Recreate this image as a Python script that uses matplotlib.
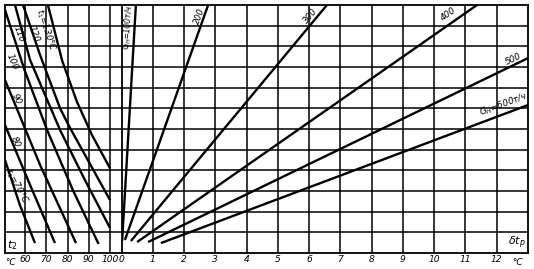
import matplotlib
matplotlib.use("Agg")
import matplotlib.pyplot as plt

# left block: t2 (return temperature), lines of constant t1
t2_ticks = [60, 70, 80, 90, 100]
t1_labels = ["$t_1$=70°C", "80", "90", "100", "110", "120", "$t_1$=130°C"]
t1_t2 = [
    [50.6, 57.6, 64.7],
    [50.6, 62.4, 74.1],
    [50.6, 67.1, 84.0],
    [50.6, 59.8, 70.4, 82.5, 94.6],
    [55.3, 62.4, 76.5, 88.2, 100.0],
    [59.1, 67.1, 76.5, 81.2, 100.0],
    [70.8, 77.5, 84.5, 91.5, 100.0],
]
t1_y = [
    [4.5, 2.32, 0.48],
    [6.19, 3.29, 0.48],
    [8.37, 4.26, 0.48],
    [11.76, 8.85, 5.95, 3.05, 0.44],
    [12.0, 9.34, 5.95, 3.53, 1.21],
    [12.0, 9.58, 7.0, 6.05, 2.56],
    [12.0, 9.3, 7.3, 5.71, 4.1],
]
t1_lab_pos = [(56.2, 3.24), (55.3, 5.37), (55.8, 7.45), (53.9, 9.24),
              (57.2, 10.6), (64.2, 10.6), (70.0, 10.8)]
t1_lab_rot = [-62, -65, -65, -68, -70, -70, -72]

# right block: delta t_p, lines of constant flow G_H
dt_ticks = list(range(0, 13))
g_labels = ["$G_H$=100т/ч", "200", "300", "400", "500", "$G_H$=600т/ч"]
g_dt = [[0.02, 0.46], [0.11, 2.77], [0.30, 6.57], [0.50, 11.37], [0.85, 13.0], [1.26, 13.0]]
g_y = [[0.58, 12.0], [0.63, 12.0], [0.58, 12.0], [0.53, 12.0], [0.53, 9.43], [0.48, 7.16]]
g_lab_pos = [(0.22, 10.95), (2.51, 11.47), (6.06, 11.47), (10.44, 11.56), (12.52, 9.39), (12.23, 7.21)]
g_lab_rot = [86, 70, 50, 35, 25, 20]

W, H = 534, 269
fig = plt.figure(figsize=(W / 100, H / 100), dpi=100)
x0, x1, x2 = 5, 121.5, 528
yb, yt = 16, 264
axl = fig.add_axes([x0 / W, yb / H, (x1 - x0) / W, (yt - yb) / H])
axr = fig.add_axes([x1 / W, yb / H, (x2 - x1) / W, (yt - yb) / H])

txt = dict(fontsize=6.3, style="italic", color="black")

for ax in (axl, axr):
    ax.set_ylim(0, 12)
    ax.set_yticks([])
    for y in range(1, 12):
        ax.axhline(y, color="black", lw=1.1)
    for s in ax.spines.values():
        s.set_linewidth(1.3)
    ax.tick_params(axis="x", length=0, pad=1.5, labelsize=6.6)

axl.set_xlim(50.6, 105.4)
axl.spines["right"].set_visible(False)
for v in t2_ticks:
    axl.axvline(v, color="black", lw=1.1)
axl.set_xticks(t2_ticks)
axl.set_xticklabels([str(v) for v in t2_ticks], style="italic")

axr.set_xlim(0, 13)
for v in dt_ticks[1:]:
    axr.axvline(v, color="black", lw=1.1)
axr.set_xticks(dt_ticks)
axr.set_xticklabels([str(v) for v in dt_ticks], style="italic")

for xs, ys in zip(t1_t2, t1_y):
    axl.plot(xs, ys, color="black", lw=1.7, solid_capstyle="butt")
for lab, (px, py), r in zip(t1_labels, t1_lab_pos, t1_lab_rot):
    axl.text(px, py, lab, rotation=r, ha="center", va="center",
             rotation_mode="anchor", **txt)

for xs, ys in zip(g_dt, g_y):
    axr.plot(xs, ys, color="black", lw=1.7, solid_capstyle="butt")
for i, (lab, (px, py), r) in enumerate(zip(g_labels, g_lab_pos, g_lab_rot)):
    fs = 5.6 if i == 0 else 6.3
    axr.text(px, py, lab, rotation=r, ha="center", va="center",
             rotation_mode="anchor", fontsize=fs, style="italic")

axl.text(0.015, 0.005, "$t_2$", transform=axl.transAxes, fontsize=8, ha="left", va="bottom")
axr.text(0.995, 0.01, r"$\delta t_p$", transform=axr.transAxes, fontsize=8, ha="right", va="bottom")
axl.text(0.0, -0.02, "°C", transform=axl.transAxes, ha="left", va="top", **txt)
axr.text(0.973, -0.02, "°C", transform=axr.transAxes, ha="center", va="top", **txt)

fig.savefig("out.png", dpi=100)
